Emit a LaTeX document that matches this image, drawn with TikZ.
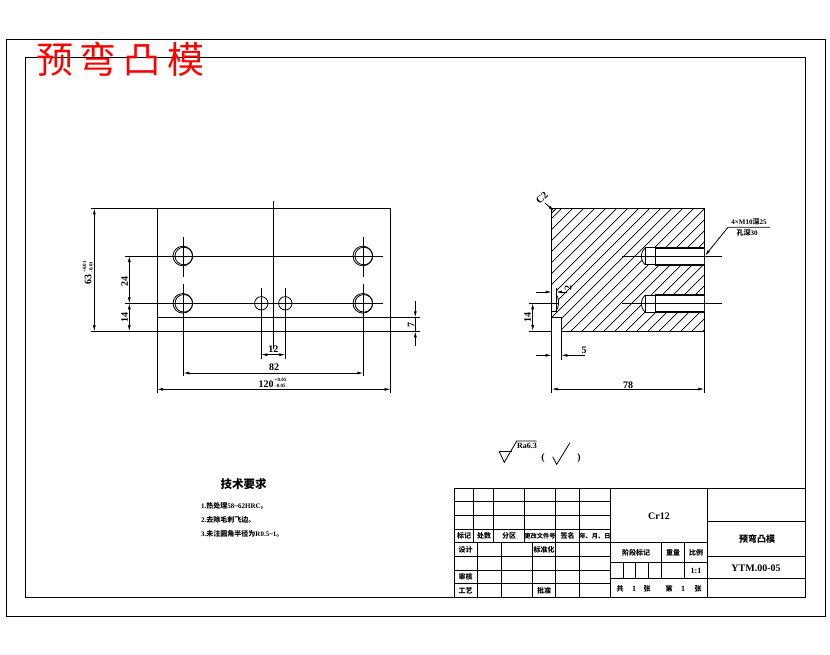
\documentclass[tikz,border=0pt]{standalone}
\usepackage{fontspec}
\usepackage{xcolor}
\usetikzlibrary{arrows.meta}
\newfontfamily\cjk{Noto Sans CJK SC}
\newfontfamily\cad{Liberation Serif}
\tikzset{
  edge/.style={black, line width=1pt},
  thinline/.style={black, line width=0.8pt},
  boltline/.style={black, line width=1.7pt},
  dim/.style={thinline, {Latex[length=6pt,width=3pt]}-{Latex[length=6pt,width=3pt]}},
  dimend/.style={thinline, -{Latex[length=6pt,width=3pt]}},
  hatch/.style={black, line width=0.7pt},
  label/.style={inner sep=0pt, font=\cjk\bfseries\fontsize{9}{9}\selectfont},
  small/.style={inner sep=0pt, font=\cjk\bfseries\fontsize{7}{7}\selectfont},
  tight/.style={inner sep=0pt, font=\cjk\bfseries\fontsize{6.2}{6.2}\selectfont},
  num/.style={inner sep=0pt, font=\cad\bfseries\fontsize{10}{10}\selectfont},
  numsmall/.style={inner sep=0pt, font=\cad\bfseries\fontsize{8}{8}\selectfont},
  tol/.style={inner sep=0pt, font=\cad\bfseries\fontsize{5}{5}\selectfont},
}
\begin{document}
\begin{tikzpicture}[x=1pt,y=-1pt]
  \useasboundingbox (0,0) rectangle (830,654);
  \fill[white] (0,0) rectangle (830,654);

  %% frames
  \draw[edge] (6,39) rectangle (825,616);
  \draw[edge] (25,57) rectangle (805.3,597);

  %% title
  \node[red, inner sep=0pt, font=\cjk\fontsize{37}{37}\selectfont] (title) at (120.5,59) {预\hspace{7pt}弯\hspace{7pt}凸\hspace{7pt}模};

  %% front view
  \draw[edge] (157,208.3) rectangle (390.7,331.3);
  \draw[edge] (157,317.3) -- (420,317.3);
  \draw[edge] (91,331.3) -- (420,331.3);
  \draw[edge] (91,208.3) -- (157,208.3);
  \draw[edge] (125,256) -- (382.7,256);
  \draw[edge] (125,303.3) -- (382.7,303.3);
  \draw[edge] (273.3,201) -- (273.3,349);

  % holes
  \foreach \hx/\hy in {183.3/256, 363.3/256, 183.3/303.3, 363.3/303.3} {
    \draw[thinline] (\hx-0.5,\hy) circle (9.8);
    \draw[thinline] (\hx+0.5,\hy) circle (8.8);
  }
  \draw[thinline] (261.3,303.3) circle (6.7);
  \draw[thinline] (285.3,303.3) circle (6.7);

  % center lines
  \foreach \hx in {183.3, 363.3} {
    \draw[edge] (\hx,236.7) -- (\hx,276.7);
    \draw[edge] (\hx,284) -- (\hx,376);
  }
  \draw[edge] (261.3,288) -- (261.3,359.3);
  \draw[edge] (285.3,288) -- (285.3,359.3);
  \draw[edge] (157,331.3) -- (157,393);
  \draw[edge] (390.7,331.3) -- (390.7,393);

  % dimensions
  \draw[dim] (94.3,208.3) -- (94.3,331.3);
  \draw[dim] (129.3,256) -- (129.3,303.3);
  \draw[dim] (129.3,303.3) -- (129.3,331.3);
  \draw[dim] (261.3,354.7) -- (285.3,354.7);
  \draw[dim] (183.3,373) -- (363.3,373);
  \draw[dim] (157,389.3) -- (390.7,389.3);
  \draw[dimend] (415.3,301.3) -- (415.3,317.3);
  \draw[dimend] (415.3,346) -- (415.3,331.3);
  \draw[thinline] (415.3,317.3) -- (415.3,331.3);

  \node[num, rotate=90] (len63) at (88,279) {63};
  \node[tol, rotate=90] (len63up) at (84.5,267) {+0.01};
  \node[tol, rotate=90] (len63dn) at (91,267) {-0.01};
  \node[num, rotate=90] (pitch24) at (124.5,281) {24};
  \node[num, rotate=90] (pitch14) at (124.5,317.5) {14};
  \node[num] (pitch12) at (273.3,349.5) {12};
  \node[num] (pitch82) at (274,367.5) {82};
  \node[num] (len120) at (266,384) {120};
  \node[tol] (len120up) at (280.5,380) {+0.05};
  \node[tol] (len120dn) at (280.5,386.2) {-0.05};
  \node[num, rotate=90] (step7) at (411,324.5) {7};

  %% side view
  \begin{scope}
    \clip (551.7,208.3) rectangle (704.3,331);
    \foreach \hx in {0,...,25} {
      \draw[hatch] (428+11*\hx,331) -- (551+11*\hx,208);
    }
  \end{scope}

  % notch and groove
  \fill[white] (551.2,317.3) rectangle (561.3,332);
  \fill[white] (551.2,288) -- (556,288) -- (556,294) .. controls (559.5,298) and (559.5,307) .. (556,311) -- (551.2,311) -- cycle;
  \draw[edge] (551.7,311) -- (556,311) -- (556,288);
  \draw[thinline] (556,294) .. controls (559.5,298) and (559.5,307) .. (556,311);
  \draw[edge] (551.7,317.3) -- (561.3,317.3) -- (561.3,359.7);

  \draw[edge] (551.7,393) -- (551.7,208.3) -- (704.3,208.3) -- (704.3,393);
  \draw[edge] (561.3,331) -- (704.3,331);
  \draw[thinline] (551.7,213) -- (556.4,208.3);

  % threaded holes
  \foreach \hy in {256.3, 303.6} {
    \fill[white] (645,\hy-8.4) .. controls (640,\hy-4) and (640,\hy+4) .. (645,\hy+8.4) -- (704,\hy+8.4) -- (704,\hy-8.4) -- cycle;
    \draw[thinline] (645,\hy-8.4) .. controls (640,\hy-4) and (640,\hy+4) .. (645,\hy+8.4);
    \draw[edge] (645,\hy-8.4) -- (645,\hy+8.4);
    \draw[edge] (655,\hy-8.4) -- (655,\hy+8.4);
    \draw[edge] (645,\hy-8.4) -- (655,\hy-8.4);
    \draw[edge] (645,\hy+8.4) -- (655,\hy+8.4);
    \draw[boltline] (655,\hy-8.4) -- (704.3,\hy-8.4);
    \draw[boltline] (655,\hy+8.4) -- (704.3,\hy+8.4);
    \draw[edge] (621.7,\hy) -- (721.7,\hy);
  }

  % dimensions
  \draw[thinline] (529,303.3) -- (558,303.3);
  \draw[thinline] (529,331) -- (551.7,331);
  \draw[dim] (532.7,303.3) -- (532.7,331);
  \draw[dimend] (536,292) -- (551.7,292);
  \draw[dimend] (567,292) -- (556,292);
  \draw[dimend] (536,355.3) -- (551.7,355.3);
  \draw[dimend] (585,355.3) -- (561.3,355.3);
  \draw[dim] (551.7,389) -- (704.3,389);
  \draw[dimend] (545,203) -- (554,211);
  \draw[dimend] (770,227.3) -- (728,227.3) -- (705,255.7);

  \node[num, rotate=90] (gap14) at (527.5,317) {14};
  \node[num, rotate=90] (gap2) at (568,287.5) {2};
  \node[num] (gap5) at (584,350) {5};
  \node[num] (wid78) at (628,385) {78};
  \node[num, rotate=45] (cham) at (542,198) {C2};
  \node[small] (thread) at (749,221.5) {{\cad 4×M10}深{\cad 25}};
  \node[small] (depth) at (747,233) {孔深{\cad 30}};

  %% roughness
  \draw[thinline] (499.3,451.7) -- (511.7,451.7);
  \draw[thinline] (499.3,451.7) -- (504.3,462.3) -- (516.7,441) -- (536.7,441);
  \draw[thinline] (552.7,456.7) -- (556.7,464.3) -- (570,442.7);
  \node[numsmall] (rough) at (527,445.5) {Ra6.3};
  \node[num] (lpar) at (543,458) {(};
  \node[num] (rpar) at (579,458) {)};

  %% notes
  \node[inner sep=0pt, font=\cjk\bfseries\fontsize{11.5}{11.5}\selectfont] (reqhead) at (243.5,484) {技术要求};
  \node[small, anchor=west] (req1) at (201,505.5) {{\cad 1.}热处理{\cad 58\textasciitilde 62HRC}。};
  \node[small, anchor=west] (req2) at (201,519.5) {{\cad 2.}去除毛刺飞边。};
  \node[small, anchor=west] (req3) at (201,534) {{\cad 3.}未注圆角半径为{\cad R0.5\textasciitilde 1}。};

  %% title block
  \draw[edge] (454.3,488.3) rectangle (805.3,597);
  \foreach \hy in {501.7, 515.3, 529.7, 542.3, 556.3, 570, 583.7} {
    \draw[edge] (454.3,\hy) -- (610.7,\hy);
  }
  \foreach \hx in {473.7, 493.7, 524.3} {
    \draw[edge] (\hx,488.3) -- (\hx,542.3);
  }
  \foreach \hx in {555.7, 579.3} {
    \draw[edge] (\hx,488.3) -- (\hx,597);
  }
  \foreach \hx in {477.3, 501.3, 532.3} {
    \draw[edge] (\hx,542.3) -- (\hx,597);
  }
  \draw[edge] (610.7,488.3) -- (610.7,597);
  \draw[edge] (707.3,488.3) -- (707.3,597);
  \draw[edge] (610.7,542.3) -- (707.3,542.3);
  \draw[edge] (610.7,562.7) -- (707.3,562.7);
  \draw[edge] (610.7,578.7) -- (707.3,578.7);
  \draw[edge] (661.7,542.3) -- (661.7,578.7);
  \draw[edge] (684.3,542.3) -- (684.3,578.7);
  \foreach \hx in {623.3, 635.7, 648.7} {
    \draw[edge] (\hx,562.7) -- (\hx,578.7);
  }
  \draw[edge] (707.3,521.7) -- (805.3,521.7);
  \draw[edge] (707.3,556) -- (805.3,556);
  \draw[edge] (707.3,578.7) -- (805.3,578.7);

  \node[small] (t1) at (464,536) {标记};
  \node[small] (t2) at (484,536) {处数};
  \node[small] (t3) at (509,536) {分区};
  \node[tight] (t4) at (540,536) {更改文件号};
  \node[small] (t5) at (567.5,536) {签名};
  \node[tight] (t6) at (595,536) {年、月、日};
  \node[small] (t7) at (465.5,549.5) {设计};
  \node[small] (t8) at (544,549.5) {标准化};
  \node[small] (t9) at (465.5,577) {审核};
  \node[small] (t10) at (465.5,590.5) {工艺};
  \node[small] (t11) at (544,590.5) {批准};
  \node[small] (t12) at (636,552.5) {阶段标记};
  \node[small] (t13) at (673,552.5) {重量};
  \node[small] (t14) at (696,552.5) {比例};
  \node[numsmall] (t15) at (696,571) {1:1};
  \node[small] (t16) at (620,589) {共};
  \node[numsmall] (t17) at (634,589) {1};
  \node[small] (t18) at (647,589) {张};
  \node[small] (t19) at (669,589) {第};
  \node[numsmall] (t20) at (683,589) {1};
  \node[small] (t21) at (698,589) {张};
  \node[num] (mat) at (659,516) {Cr12};
  \node[label] (name) at (757,539) {预弯凸模};
  \node[num] (code) at (756,568) {YTM.00-05};
\end{tikzpicture}
\end{document}
